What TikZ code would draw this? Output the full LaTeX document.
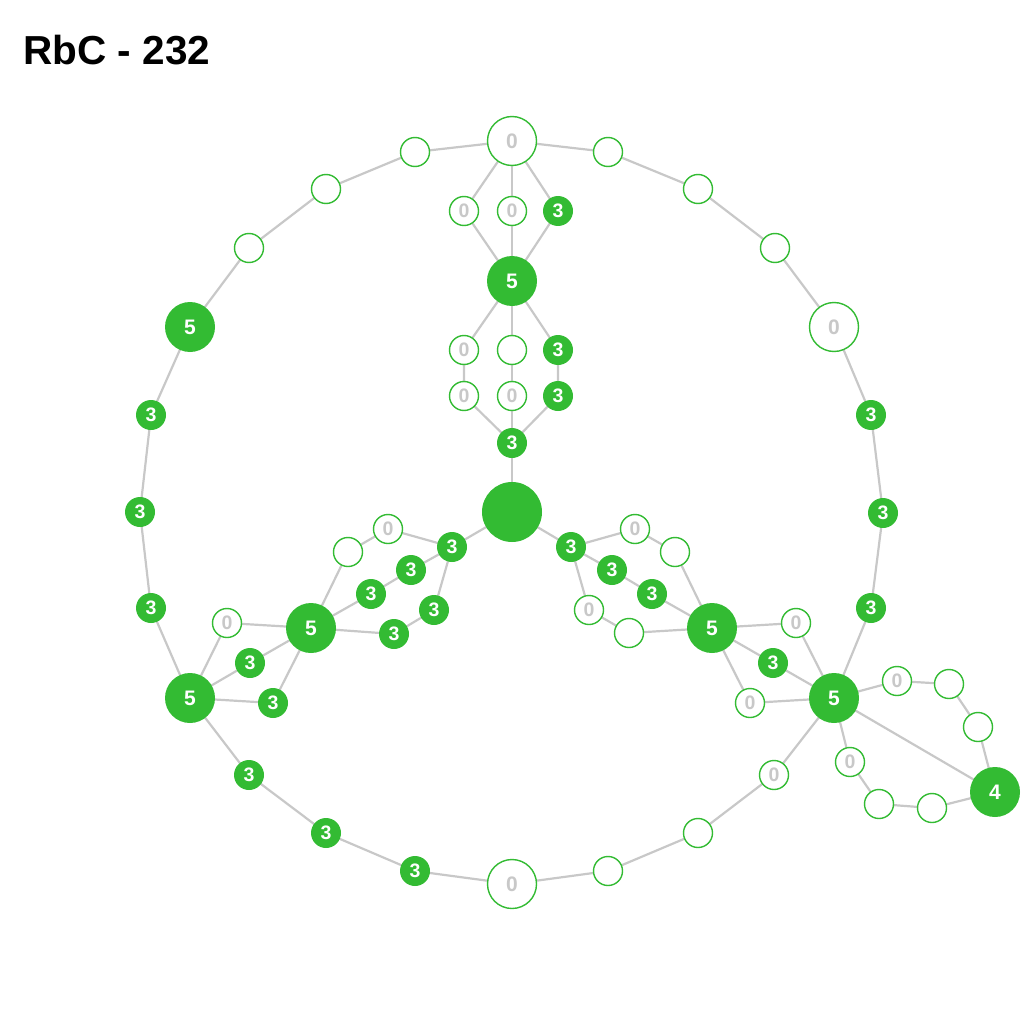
\documentclass[tikz,border=0pt]{standalone}
\usepackage{fontspec}
\setmainfont{Liberation Sans}
\usetikzlibrary{backgrounds}
\definecolor{gr}{RGB}{51,187,51}
\definecolor{lg}{RGB}{200,200,200}
\tikzset{
  fz/.style={circle,fill=gr,draw=none,minimum size=30pt,inner sep=0pt,text=white,font=\bfseries\fontsize{19.5}{19.5}\selectfont},
  fb/.style={circle,fill=gr,draw=none,minimum size=50pt,inner sep=0pt,text=white,font=\bfseries\fontsize{21}{21}\selectfont},
  hz/.style={circle,fill=white,draw=gr,line width=1.4pt,minimum size=29pt,inner sep=0pt,text=lg,font=\bfseries\fontsize{19.5}{19.5}\selectfont},
  hb/.style={circle,fill=white,draw=gr,line width=1.4pt,minimum size=49pt,inner sep=0pt,text=lg,font=\bfseries\fontsize{21}{21}\selectfont},
  ed/.style={draw=lg,line width=2.2pt},
}
\begin{document}
\begin{tikzpicture}[x=1pt,y=-1pt]
\useasboundingbox (0,0) rectangle (1024,1024);
\node[anchor=base west,font=\bfseries\fontsize{40.5}{40.5}\selectfont] (title) at (20,65) {RbC - 232};
% outer ring
\node[hb] (T0) at (512,141) {0};
\node[hz] (r1) at (608,152) {};
\node[hz] (r2) at (698,189) {};
\node[hz] (r3) at (775,248) {};
\node[hb] (r4) at (834,327) {0};
\node[fz] (r5) at (871,415) {3};
\node[fz] (r6) at (883,513) {3};
\node[fz] (r7) at (871,608) {3};
\node[fb] (R5) at (834,698) {5};
\node[hz] (b1) at (774,775) {0};
\node[hz] (b2) at (698,833) {};
\node[hz] (b3) at (608,871) {};
\node[hb] (B0) at (512,884) {0};
\node[fz] (b4) at (415,871) {3};
\node[fz] (b5) at (326,833) {3};
\node[fz] (b6) at (249,775) {3};
\node[fb] (L5) at (190,698) {5};
\node[fz] (l1) at (151,608) {3};
\node[fz] (l2) at (140,512) {3};
\node[fz] (l3) at (151,415) {3};
\node[fb] (l4) at (190,327) {5};
\node[hz] (l5) at (249,248) {};
\node[hz] (l6) at (326,189) {};
\node[hz] (l7) at (415,152) {};
% top spoke
\node[hz] (ta) at (464,211) {0};
\node[hz] (tb) at (512,211) {0};
\node[fz] (tc) at (558,211) {3};
\node[fb] (M5) at (512,281) {5};
\node[hz] (ua) at (464,350) {0};
\node[hz] (ub) at (512,350) {};
\node[fz] (uc) at (558,350) {3};
\node[hz] (va) at (464,396) {0};
\node[hz] (vb) at (512,396) {0};
\node[fz] (vc) at (558,396) {3};
\node[fz] (w3) at (512,443) {3};
\node[circle,fill=gr,minimum size=60pt,inner sep=0pt] (C) at (512,512) {};
% left spoke
\node[fz] (lw) at (452,547) {3};
\node[hz] (la1) at (388,529) {0};
\node[hz] (la2) at (348,552) {};
\node[fz] (lb1) at (411,570) {3};
\node[fz] (lb2) at (371,594) {3};
\node[fz] (lc1) at (434,610) {3};
\node[fz] (lc2) at (394,634) {3};
\node[fb] (LM) at (311,628) {5};
\node[hz] (ld) at (227,623) {0};
\node[fz] (le) at (250,663) {3};
\node[fz] (lf) at (273,703) {3};
% right spoke
\node[fz] (rw) at (571,547) {3};
\node[hz] (ra1) at (635,529) {0};
\node[hz] (ra2) at (675,552) {};
\node[fz] (rb1) at (612,570) {3};
\node[fz] (rb2) at (652,594) {3};
\node[hz] (rc1) at (589,610) {0};
\node[hz] (rc2) at (629,633) {};
\node[fb] (RM) at (712,628) {5};
\node[hz] (rd) at (796,623) {0};
\node[fz] (re) at (773,663) {3};
\node[hz] (rf) at (750,703) {0};
% loop
\node[hz] (p1) at (897,681) {0};
\node[hz] (p2) at (949,684) {};
\node[hz] (p3) at (978,727) {};
\node[fb] (F4) at (995,792) {4};
\node[hz] (q1) at (850,762) {0};
\node[hz] (q2) at (879,804) {};
\node[hz] (q3) at (932,808) {};
\begin{scope}[on background layer]
\draw[ed] (T0.center)--(r1.center)--(r2.center)--(r3.center)--(r4.center)--(r5.center)--(r6.center)--(r7.center)--(R5.center)--(b1.center)--(b2.center)--(b3.center)--(B0.center)--(b4.center)--(b5.center)--(b6.center)--(L5.center)--(l1.center)--(l2.center)--(l3.center)--(l4.center)--(l5.center)--(l6.center)--(l7.center)--(T0.center);
\foreach \a in {ta,tb,tc} {\draw[ed] (T0.center)--(\a.center)--(M5.center);}
\draw[ed] (M5.center)--(ua.center)--(va.center)--(w3.center);
\draw[ed] (M5.center)--(ub.center)--(vb.center)--(w3.center);
\draw[ed] (M5.center)--(uc.center)--(vc.center)--(w3.center);
\draw[ed] (w3.center)--(C.center);
\draw[ed] (C.center)--(lw.center);
\draw[ed] (lw.center)--(la1.center)--(la2.center)--(LM.center);
\draw[ed] (lw.center)--(lb1.center)--(lb2.center)--(LM.center);
\draw[ed] (lw.center)--(lc1.center)--(lc2.center)--(LM.center);
\foreach \a in {ld,le,lf} {\draw[ed] (LM.center)--(\a.center)--(L5.center);}
\draw[ed] (C.center)--(rw.center);
\draw[ed] (rw.center)--(ra1.center)--(ra2.center)--(RM.center);
\draw[ed] (rw.center)--(rb1.center)--(rb2.center)--(RM.center);
\draw[ed] (rw.center)--(rc1.center)--(rc2.center)--(RM.center);
\foreach \a in {rd,re,rf} {\draw[ed] (RM.center)--(\a.center)--(R5.center);}
\draw[ed] (R5.center)--(p1.center)--(p2.center)--(p3.center)--(F4.center);
\draw[ed] (R5.center)--(q1.center)--(q2.center)--(q3.center)--(F4.center);
\draw[ed] (R5.center)--(F4.center);
\end{scope}
\end{tikzpicture}
\end{document}
